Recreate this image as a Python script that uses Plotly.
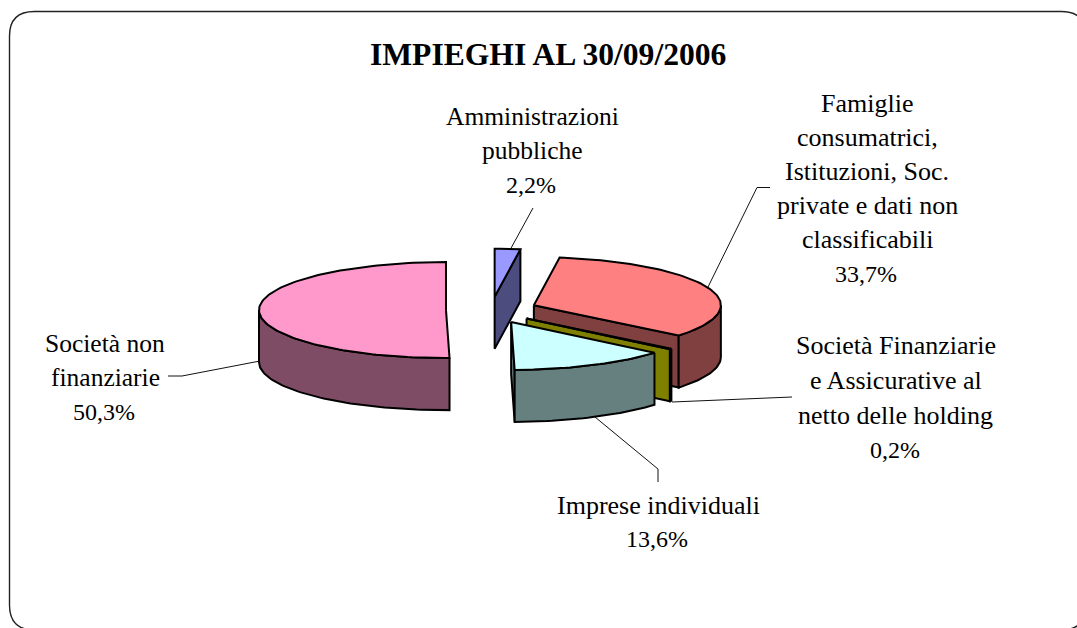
import math
import plotly.graph_objects as go

W, H = 1077, 628

title = "IMPIEGHI AL 30/09/2006"
categories = ["Amministrazioni pubbliche",
              "Famiglie consumatrici, Istituzioni, Soc. private e dati non classificabili",
              "Società Finanziarie e Assicurative al netto delle holding",
              "Imprese individuali",
              "Società non finanziarie"]
values = [2.2, 33.7, 0.2, 13.6, 50.3]
top_colors = ["#9999FF", "#FF8080", "#FFFF00", "#CCFFFF", "#FF99CC"]
side_colors = ["#4C4C7F", "#804040", "#808000", "#667F7F", "#7F4C66"]
draw_order = [4, 0, 1, 2, 3]

label_lines = [
    ["Amministrazioni", "pubbliche"],
    ["Famiglie", "consumatrici,", "Istituzioni, Soc.", "private e dati non", "classificabili"],
    ["Società Finanziarie", "e Assicurative al", "netto delle holding"],
    ["Imprese individuali"],
    ["Società non", "finanziarie"],
]
label_x = [532, 867, 895.5, 658, 105]
label_y0 = [116, 103.5, 345, 505, 343]
label_step = [34.5, 34, 35, 33.5, 34.5]
label_size = [25.5, 26, 26, 26, 25.5]
percent_size = 24

CX, CY = 491.5, 310
RX, RY = 187, 48
DEPTH = 52
PULL, PULL_Y = 45.5, 0.29


def rim(c, a):
    return c[0] + RX * math.sin(a), c[1] - RY * math.cos(a)


def poly(pts, color):
    return go.Scatter(x=[p[0] for p in pts] + [pts[0][0]],
                      y=[p[1] for p in pts] + [pts[0][1]],
                      mode="lines", fill="toself", fillcolor=color,
                      line=dict(color="black", width=2),
                      hoverinfo="skip", showlegend=False)


total = sum(values)
angles = [0.0]
for v in values:
    angles.append(angles[-1] + v / total * 2 * math.pi)

fig = go.Figure()
for i in draw_order:
    a0, a1 = angles[i], angles[i + 1]
    mid = (a0 + a1) / 2
    c = (CX + PULL * math.sin(mid), CY - PULL * PULL_Y * math.cos(mid))
    n = max(2, int((a1 - a0) * 40))
    arc = [a0 + (a1 - a0) * k / n for k in range(n + 1)]
    # cut face at the clockwise end of the slice
    if 0 < a1 < math.pi:
        r = rim(c, a1)
        fig.add_trace(poly([c, r, (r[0], r[1] + DEPTH), (c[0], c[1] + DEPTH)], side_colors[i]))
    # outer wall on the front half
    lo, hi = max(a0, math.pi / 2), min(a1, 1.5 * math.pi)
    if hi > lo:
        m = max(2, int((hi - lo) * 40))
        wa = [lo + (hi - lo) * k / m for k in range(m + 1)]
        upper = [rim(c, a) for a in wa]
        lower = [(p[0], p[1] + DEPTH) for p in reversed(upper)]
        fig.add_trace(poly(upper + lower, side_colors[i]))
    fig.add_trace(poly([c] + [rim(c, a) for a in arc], top_colors[i]))

annotations = [dict(x=548, y=54.5, text="<b>" + title + "</b>", showarrow=False, xref="x", yref="y",
                    font=dict(family="Liberation Serif", size=31.6, color="black"))]
for i, lines in enumerate(label_lines):
    for j, row in enumerate(lines):
        annotations.append(dict(x=label_x[i], y=label_y0[i] + j * label_step[i], text=row,
                                showarrow=False, xref="x", yref="y",
                                font=dict(family="Liberation Serif", size=label_size[i], color="black")))
    annotations.append(dict(x=label_x[i] - 1, y=label_y0[i] + len(lines) * label_step[i],
                            text=f"{values[i]:.1f}%".replace(".", ","),
                            showarrow=False, xref="x", yref="y",
                            font=dict(family="Liberation Serif", size=percent_size, color="black")))

leaders = [
    "M 533 208 L 510 250",
    "M 770 187.5 L 757 187.5 L 708 287",
    "M 792 397 L 672 402",
    "M 658 482 L 658 469 L 595 417",
    "M 168 376 L 182 376 L 260 361",
]
shapes = [dict(type="path", layer="below", line=dict(color="#111111", width=1),
               path=p) for p in leaders]
shapes.append(dict(type="path", layer="below", line=dict(color="#222222", width=1.4),
                   path="M 34.5 11.5 L 1061 11.5 Q 1086 11.5 1086 36 L 1086 605 Q 1086 630 1061 630 "
                        "L 34.5 630 Q 9.5 630 9.5 605 L 9.5 36 Q 9.5 11.5 34.5 11.5 Z"))

fig.update_layout(
    width=W, height=H, autosize=False,
    margin=dict(l=0, r=0, t=0, b=0),
    paper_bgcolor="white", plot_bgcolor="white",
    xaxis=dict(range=[0, W], visible=False, fixedrange=True),
    yaxis=dict(range=[H, 0], visible=False, fixedrange=True),
    showlegend=False, annotations=annotations, shapes=shapes,
)
fig.write_html("out.html", config=dict(displayModeBar=False),
               post_script="document.body.style.margin='0';document.body.style.overflow='hidden';")
